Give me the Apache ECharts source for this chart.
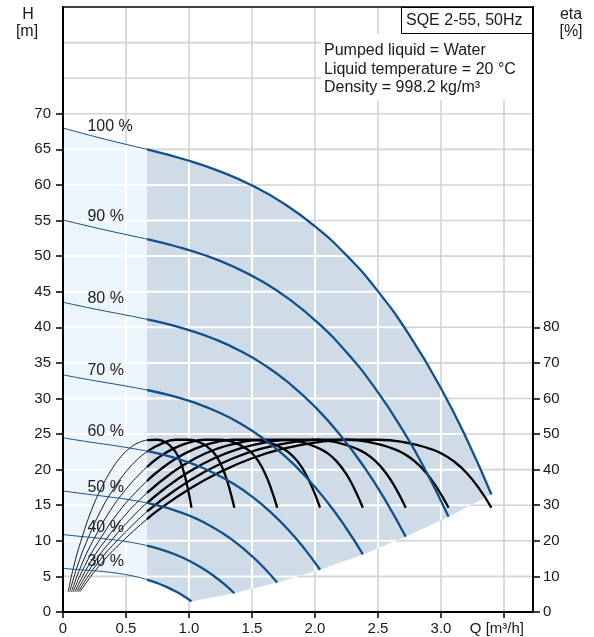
<!DOCTYPE html>
<html><head><meta charset="utf-8">
<script src="https://cdn.jsdelivr.net/npm/echarts@6/dist/echarts.min.js"></script>
<style>html,body{margin:0;padding:0;background:#fff}#c{width:594px;height:637px}</style>
</head><body><div id="c"></div>
<script>
// ---------- data ----------
const speedLabels = ['100 %','90 %','80 %','70 %','60 %','50 %','40 %','30 %'];
const xTickValues = [0,0.5,1,1.5,2,2.5,3];
const hTickValues = [0,5,10,15,20,25,30,35,40,45,50,55,60,65,70];
const etaTickValues = [0,10,20,30,40,50,60,70,80];

// Head curves H [m] vs Q [m3/h]
const head100 = [[0,68.0],[0.333,66.43],[0.667,65.0],[1.0,63.4],[1.25,61.88],[1.5,59.93],[1.75,57.41],[2.0,54.18],[2.25,50.11],[2.5,45.05],[2.75,38.86],[3.0,31.41],[3.2,24.44],[3.4,16.5]];
const head90 = [[0,55.08],[0.3,53.81],[0.6,52.65],[0.667,52.39],[0.9,51.35],[1.125,50.12],[1.35,48.54],[1.575,46.5],[1.8,43.89],[2.025,40.59],[2.25,36.49],[2.475,31.48],[2.7,25.44],[2.88,19.8],[3.06,13.37]];
const head80 = [[0,43.52],[0.266,42.52],[0.534,41.6],[0.667,41.12],[0.8,40.58],[1.0,39.6],[1.2,38.36],[1.4,36.74],[1.6,34.68],[1.8,32.07],[2.0,28.83],[2.2,24.87],[2.4,20.1],[2.56,15.64],[2.72,10.56]];
const head70 = [[0,33.32],[0.233,32.55],[0.467,31.85],[0.667,31.19],[0.875,30.32],[1.05,29.37],[1.225,28.13],[1.4,26.55],[1.575,24.55],[1.75,22.07],[1.925,19.04],[2.1,15.39],[2.24,11.98],[2.38,8.09]];
const head60 = [[0,24.48],[0.2,23.91],[0.4,23.4],[0.6,22.82],[0.667,22.6],[0.75,22.28],[0.9,21.57],[1.05,20.67],[1.2,19.5],[1.35,18.04],[1.5,16.22],[1.65,13.99],[1.8,11.31],[1.92,8.8],[2.04,5.94]];
const head50 = [[0,17.0],[0.167,16.61],[0.333,16.25],[0.5,15.85],[0.667,15.32],[0.75,14.98],[0.875,14.35],[1.0,13.55],[1.125,12.53],[1.25,11.26],[1.375,9.72],[1.5,7.85],[1.6,6.11],[1.7,4.13]];
const head40 = [[0,10.88],[0.133,10.63],[0.267,10.4],[0.4,10.14],[0.5,9.9],[0.6,9.59],[0.667,9.33],[0.8,8.67],[0.9,8.02],[1.0,7.21],[1.1,6.22],[1.2,5.03],[1.28,3.91],[1.36,2.64]];
const head30 = [[0,6.12],[0.1,5.98],[0.2,5.85],[0.3,5.71],[0.375,5.57],[0.45,5.39],[0.525,5.17],[0.6,4.88],[0.667,4.55],[0.75,4.05],[0.825,3.5],[0.9,2.83],[0.96,2.2],[1.02,1.49]];

// Efficiency curves eta [%] vs Q [m3/h]
const eff100 = [[0.135,5.7],[0.3,13.5],[0.5,20.8],[0.667,26.1],[0.75,28.5],[1.0,34.5],[1.25,39.4],[1.5,43.2],[1.75,45.9],[2.0,47.6],[2.25,48.4],[2.5,48.4],[2.75,47.4],[2.9,46.0],[3.0,44.6],[3.1,42.4],[3.2,39.2],[3.3,34.8],[3.4,29.3]];
const eff90 = [[0.122,5.7],[0.27,13.5],[0.45,20.8],[0.667,28.25],[0.9,34.5],[1.125,39.4],[1.35,43.2],[1.575,45.9],[1.8,47.6],[2.025,48.4],[2.25,48.4],[2.475,47.4],[2.61,46.0],[2.7,44.6],[2.79,42.4],[2.88,39.2],[2.97,34.8],[3.06,29.3]];
const eff80 = [[0.108,5.7],[0.24,13.5],[0.4,20.8],[0.6,28.5],[0.667,30.6],[0.8,34.5],[1.0,39.4],[1.2,43.2],[1.4,45.9],[1.6,47.6],[1.8,48.4],[2.0,48.4],[2.2,47.4],[2.32,46.0],[2.4,44.6],[2.48,42.4],[2.56,39.2],[2.64,34.8],[2.72,29.3]];
const eff70 = [[0.095,5.7],[0.21,13.5],[0.35,20.8],[0.525,28.5],[0.667,33.45],[0.875,39.4],[1.05,43.2],[1.225,45.9],[1.4,47.6],[1.575,48.4],[1.75,48.4],[1.925,47.4],[2.03,46.0],[2.1,44.6],[2.17,42.4],[2.24,39.2],[2.31,34.8],[2.38,29.3]];
const eff60 = [[0.081,5.7],[0.18,13.5],[0.3,20.8],[0.45,28.5],[0.6,34.5],[0.667,36.8],[0.75,39.4],[0.9,43.2],[1.05,45.9],[1.2,47.6],[1.35,48.4],[1.5,48.4],[1.65,47.4],[1.74,46.0],[1.8,44.6],[1.86,42.4],[1.92,39.2],[1.98,34.8],[2.04,29.3]];
const eff50 = [[0.068,5.7],[0.15,13.5],[0.25,20.8],[0.375,28.5],[0.5,34.5],[0.625,39.4],[0.667,40.75],[0.75,43.2],[0.875,45.9],[1.0,47.6],[1.125,48.4],[1.25,48.4],[1.375,47.4],[1.45,46.0],[1.5,44.6],[1.55,42.4],[1.6,39.2],[1.65,34.8],[1.7,29.3]];
const eff40 = [[0.054,5.7],[0.12,13.5],[0.2,20.8],[0.3,28.5],[0.4,34.5],[0.5,39.4],[0.6,43.2],[0.667,45.05],[0.8,47.6],[0.9,48.4],[1.0,48.4],[1.1,47.4],[1.16,46.0],[1.2,44.6],[1.24,42.4],[1.28,39.2],[1.32,34.8],[1.36,29.3]];
const eff30 = [[0.041,5.7],[0.09,13.5],[0.15,20.8],[0.225,28.5],[0.3,34.5],[0.375,39.4],[0.45,43.2],[0.525,45.9],[0.6,47.6],[0.667,48.3],[0.75,48.4],[0.825,47.4],[0.87,46.0],[0.9,44.6],[0.93,42.4],[0.96,39.2],[0.99,34.8],[1.02,29.3]];

// ---------- styling / layout ----------
const FONT = '"Liberation Sans", Arial, sans-serif';
const TXT = '#1a1a1a';
const BLUE = '#12508c';
const LIGHT = '#edf5fc';
const DARK = '#cfdce8';
const GRID_GREY = '#d3d3d3';
const X_MAX = 3.73, Y_MAX = 85;
const SPLIT = 0.667;
const SMOOTH = 0.5;
const labelH = [68.2, 55.6, 44.05, 33.95, 25.3, 17.5, 11.9, 7.1];

const headSets = [head100, head90, head80, head70, head60, head50, head40, head30];
const effSets = [eff100, eff90, eff80, eff70, eff60, eff50, eff40, eff30];
const thinPart = d => d.filter(p => p[0] <= SPLIT + 1e-9);
const thickPart = d => d.filter(p => p[0] >= SPLIT - 1e-9);

const lightPoly = thinPart(head100).concat(thinPart(head30).reverse());
const darkPoly = thickPart(head100)
  .concat([head90, head80, head70, head60, head50, head40].map(d => d[d.length - 1]))
  .concat(thickPart(head30).reverse());

function clipPoly(pts, xmin, xmax, ymin, ymax) {
  const edges = [
    [p => p[0] >= xmin, (a, b) => { const t = (xmin - a[0]) / (b[0] - a[0]); return [xmin, a[1] + t * (b[1] - a[1])]; }],
    [p => p[0] <= xmax, (a, b) => { const t = (xmax - a[0]) / (b[0] - a[0]); return [xmax, a[1] + t * (b[1] - a[1])]; }],
    [p => p[1] >= ymin, (a, b) => { const t = (ymin - a[1]) / (b[1] - a[1]); return [a[0] + t * (b[0] - a[0]), ymin]; }],
    [p => p[1] <= ymax, (a, b) => { const t = (ymax - a[1]) / (b[1] - a[1]); return [a[0] + t * (b[0] - a[0]), ymax]; }]
  ];
  let out = pts;
  for (const [inside, inter] of edges) {
    const input = out; out = [];
    if (!input.length) break;
    for (let i = 0; i < input.length; i++) {
      const cur = input[i], prev = input[(i + input.length - 1) % input.length];
      const ci = inside(cur), pi = inside(prev);
      if (ci) { if (!pi) out.push(inter(prev, cur)); out.push(cur); }
      else if (pi) out.push(inter(prev, cur));
    }
  }
  return out;
}

function renderRegions(params, api) {
  const cs = params.coordSys;
  const px = pts => pts.map(p => api.coord(p));
  const regions = [{ pts: px(lightPoly), color: LIGHT }, { pts: px(darkPoly), color: DARK }];
  const children = [];
  const xs = [], ys = [];
  for (let q = 0; q < X_MAX - 1e-6; q += 0.5) xs.push(api.coord([q, 0])[0]);
  xs.push(cs.x + cs.width);
  for (let h = 0; h <= Y_MAX + 1e-6; h += 5) ys.push(api.coord([0, h])[1]);
  // grey grid lines
  xs.slice(1, -1).forEach(x => children.push({ type: 'line', shape: { x1: x, y1: cs.y + 1, x2: x, y2: cs.y + cs.height }, style: { stroke: GRID_GREY, lineWidth: 1.6 } }));
  ys.slice(1, -1).forEach(y => children.push({ type: 'line', shape: { x1: cs.x, y1: y, x2: cs.x + cs.width, y2: y }, style: { stroke: GRID_GREY, lineWidth: 1.6 } }));
  // white underlay
  regions.forEach(r => children.push({ type: 'polygon', shape: { points: r.pts }, style: { fill: '#ffffff' } }));
  // shaded cells, leaving white grid gaps
  const G = 1.0;
  for (let i = 0; i < xs.length - 1; i++) {
    for (let j = 0; j < ys.length - 1; j++) {
      const xmin = xs[i] + G, xmax = xs[i + 1] - G, ymin = ys[j + 1] + G, ymax = ys[j] - G;
      regions.forEach(r => {
        const c = clipPoly(r.pts, xmin, xmax, ymin, ymax);
        if (c.length >= 3) children.push({ type: 'polygon', shape: { points: c }, style: { fill: r.color } });
      });
    }
  }
  return { type: 'group', children };
}

const series = [{
  type: 'custom', coordinateSystem: 'cartesian2d', xAxisIndex: 0, yAxisIndex: 0,
  z: 1, silent: true, clip: false, data: [[0, 0]], renderItem: renderRegions
}];
effSets.forEach(d => {
  series.push({ type: 'line', yAxisIndex: 1, data: thinPart(d), smooth: SMOOTH, showSymbol: false, silent: true, z: 3, lineStyle: { color: '#000', width: 0.9 } });
  series.push({ type: 'line', yAxisIndex: 1, data: thickPart(d), smooth: SMOOTH, showSymbol: false, silent: true, z: 3, lineStyle: { color: '#000', width: 2.3 } });
});
headSets.forEach((d, i) => {
  series.push({
    type: 'line', yAxisIndex: 0, data: thinPart(d), smooth: SMOOTH, showSymbol: false, silent: true, z: 4,
    lineStyle: { color: BLUE, width: 1 },
    markPoint: {
      symbol: 'circle', symbolSize: 1, silent: true, itemStyle: { color: 'rgba(0,0,0,0)' },
      data: [{ coord: [0.19, labelH[i]] }],
      label: { show: true, position: 'right', distance: 0, formatter: speedLabels[i], color: '#222', fontSize: 16, fontFamily: FONT }
    }
  });
  series.push({ type: 'line', yAxisIndex: 0, data: thickPart(d), smooth: SMOOTH, showSymbol: false, silent: true, z: 4, lineStyle: { color: BLUE, width: 2.3 } });
});

const axisCommon = {
  z: 6,
  axisLine: { show: true, onZero: false, lineStyle: { color: '#000', width: 2 } },
  splitLine: { show: false }
};

const option = {
  animation: false,
  backgroundColor: '#fff',
  grid: { left: 63, right: 61, top: 7, bottom: 25, show: true, borderColor: '#000', borderWidth: 1.5, backgroundColor: 'transparent', z: 2 },
  xAxis: Object.assign({}, axisCommon, {
    type: 'value', min: 0, max: X_MAX, interval: 0.5,
    axisTick: { show: true, length: 6, lineStyle: { color: '#000', width: 1.5 }, customValues: [0, 0.5, 1, 1.5, 2, 2.5, 3, 3.5] },
    axisLabel: { customValues: xTickValues, margin: 9, color: TXT, fontSize: 15, fontFamily: FONT, formatter: v => v === 0 ? '0' : v.toFixed(1) }
  }),
  yAxis: [
    Object.assign({}, axisCommon, {
      type: 'value', min: 0, max: Y_MAX, interval: 5, position: 'left',
      axisTick: { show: true, length: 7, lineStyle: { color: '#000', width: 1.5 }, customValues: hTickValues },
      axisLabel: { customValues: hTickValues, margin: 12, color: TXT, fontSize: 15, fontFamily: FONT }
    }),
    Object.assign({}, axisCommon, {
      type: 'value', min: 0, max: 170, interval: 10, position: 'right',
      axisTick: { show: true, length: 7, lineStyle: { color: '#000', width: 1.5 }, customValues: etaTickValues },
      axisLabel: { customValues: etaTickValues, margin: 10, color: TXT, fontSize: 15, fontFamily: FONT }
    })
  ],
  graphic: [
    { type: 'text', z: 100, x: 28, y: 15, style: { text: 'H', textAlign: 'center', textVerticalAlign: 'middle', font: '16px ' + FONT, fill: TXT } },
    { type: 'text', z: 100, x: 27, y: 32, style: { text: '[m]', textAlign: 'center', textVerticalAlign: 'middle', font: '16px ' + FONT, fill: TXT } },
    { type: 'text', z: 100, x: 571, y: 15, style: { text: 'eta', textAlign: 'center', textVerticalAlign: 'middle', font: '16px ' + FONT, fill: TXT } },
    { type: 'text', z: 100, x: 571, y: 32, style: { text: '[%]', textAlign: 'center', textVerticalAlign: 'middle', font: '16px ' + FONT, fill: TXT } },
    { type: 'text', z: 100, x: 524, y: 629, style: { text: 'Q [m³/h]', textAlign: 'right', textVerticalAlign: 'middle', font: '15px ' + FONT, fill: TXT } },
    { type: 'rect', z: 100, shape: { x: 321, y: 34, width: 211, height: 66 }, style: { fill: '#fff' } },
    { type: 'text', z: 101, x: 324, y: 51, style: { text: 'Pumped liquid = Water', textVerticalAlign: 'middle', font: '16px ' + FONT, fill: TXT } },
    { type: 'text', z: 101, x: 324, y: 70, style: { text: 'Liquid temperature = 20 °C', textVerticalAlign: 'middle', font: '16px ' + FONT, fill: TXT } },
    { type: 'text', z: 101, x: 324, y: 88, style: { text: 'Density = 998.2 kg/m³', textVerticalAlign: 'middle', font: '16px ' + FONT, fill: TXT } },
    { type: 'rect', z: 100, shape: { x: 401.5, y: 7.5, width: 131, height: 26 }, style: { fill: '#fff', stroke: '#000', lineWidth: 1 } },
    { type: 'text', z: 101, x: 406, y: 20.5, style: { text: 'SQE 2-55, 50Hz', textVerticalAlign: 'middle', font: '16px ' + FONT, fill: TXT } }
  ],
  series
};

const chart = echarts.init(document.getElementById('c'), null, { renderer: 'canvas' });
chart.setOption(option);
</script>
</body></html>
